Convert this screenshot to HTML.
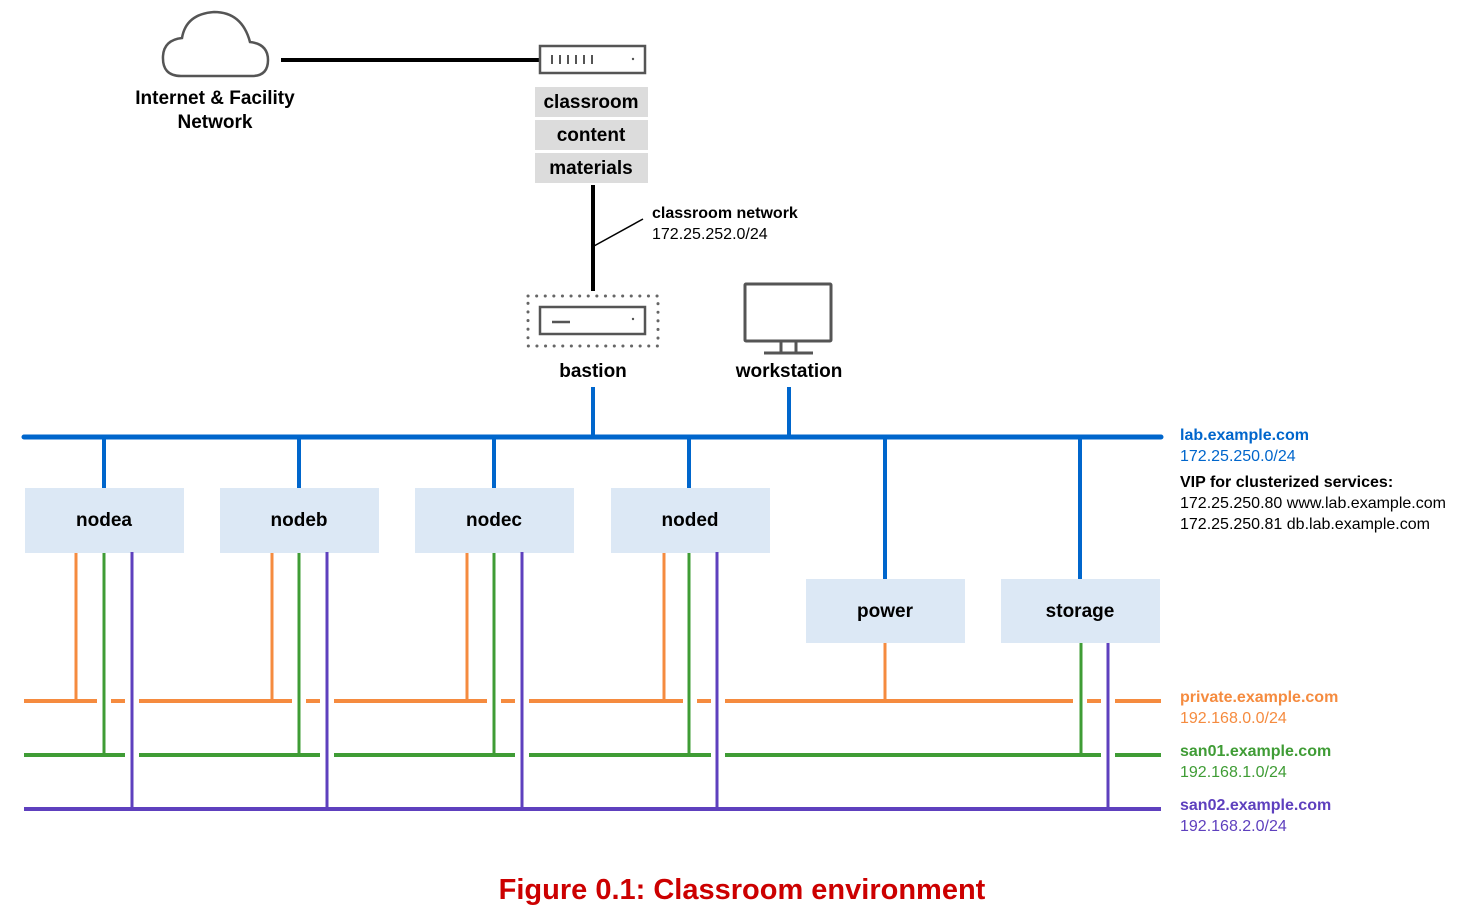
<!DOCTYPE html>
<html><head><meta charset="utf-8"><style>
html,body{margin:0;padding:0;background:#fff;width:1474px;height:918px;overflow:hidden}
svg text{font-family:"Liberation Sans",sans-serif}
</style></head><body>
<svg width="1474" height="918" viewBox="0 0 1474 918" xmlns="http://www.w3.org/2000/svg">
<!-- cloud -->
<path d="M181,76 Q162,76 163,56 Q164,40 182,38 Q186,14 214,12 Q242,12 250,42 Q268,44 268,60 Q268,76 252,76 Z" fill="none" stroke="#555" stroke-width="2.5"/>
<text x="215" y="104" font-size="19" font-weight="bold" text-anchor="middle">Internet &amp; Facility</text>
<text x="215" y="128" font-size="19" font-weight="bold" text-anchor="middle">Network</text>
<line x1="281" y1="60" x2="540" y2="60" stroke="#000" stroke-width="4"/>
<!-- switch -->
<rect x="540" y="46" width="105" height="27" fill="#fff" stroke="#555" stroke-width="2.5"/>
<g stroke="#555" stroke-width="2"><line x1="522" x2="522" y1="0" y2="0"/>
<line x1="552" y1="55" x2="552" y2="64"/><line x1="560" y1="55" x2="560" y2="64"/><line x1="568" y1="55" x2="568" y2="64"/><line x1="576" y1="55" x2="576" y2="64"/><line x1="584" y1="55" x2="584" y2="64"/><line x1="592" y1="55" x2="592" y2="64"/></g>
<circle cx="633" cy="59" r="1.2" fill="#555"/>
<rect x="535" y="87" width="113" height="30" fill="#dcdcdc"/>
<rect x="535" y="120" width="113" height="30" fill="#dcdcdc"/>
<rect x="535" y="153" width="113" height="30" fill="#dcdcdc"/>
<text x="591" y="108" font-size="19" font-weight="bold" text-anchor="middle">classroom</text>
<text x="591" y="141" font-size="19" font-weight="bold" text-anchor="middle">content</text>
<text x="591" y="174" font-size="19" font-weight="bold" text-anchor="middle">materials</text>
<line x1="593" y1="185" x2="593" y2="291" stroke="#000" stroke-width="4"/>
<line x1="594" y1="246" x2="643" y2="219" stroke="#000" stroke-width="1.5"/>
<text x="652" y="218" font-size="16" font-weight="bold">classroom network</text>
<text x="652" y="239" font-size="16">172.25.252.0/24</text>
<!-- bastion -->
<rect x="528" y="296" width="130" height="50" fill="none" stroke="#666" stroke-width="3" stroke-dasharray="0.1 8.5" stroke-linecap="round"/>
<rect x="540" y="307" width="105" height="27" fill="#fff" stroke="#555" stroke-width="2.5"/>
<line x1="552" y1="322" x2="570" y2="322" stroke="#555" stroke-width="2.5"/>
<circle cx="633" cy="319" r="1.2" fill="#555"/>
<text x="593" y="377" font-size="19" font-weight="bold" text-anchor="middle">bastion</text>
<!-- workstation -->
<rect x="745" y="284" width="86" height="57" fill="#fff" stroke="#555" stroke-width="3" rx="1"/>
<line x1="781" y1="342" x2="781" y2="352" stroke="#555" stroke-width="3"/>
<line x1="796" y1="342" x2="796" y2="352" stroke="#555" stroke-width="3"/>
<line x1="764" y1="353" x2="813" y2="353" stroke="#555" stroke-width="3"/>
<text x="789" y="377" font-size="19" font-weight="bold" text-anchor="middle">workstation</text>
<!-- blue -->
<g stroke="#0066cc" stroke-width="4">
<line x1="593" y1="387" x2="593" y2="437"/><line x1="789" y1="387" x2="789" y2="437"/>
<line x1="104" y1="437" x2="104" y2="488"/><line x1="299" y1="437" x2="299" y2="488"/>
<line x1="494" y1="437" x2="494" y2="488"/><line x1="689" y1="437" x2="689" y2="488"/>
<line x1="885" y1="437" x2="885" y2="579"/><line x1="1080" y1="437" x2="1080" y2="579"/>
</g>
<line x1="24" y1="437" x2="1161" y2="437" stroke="#0066cc" stroke-width="5" stroke-linecap="round"/>
<!-- nodes -->
<g fill="#dce8f5">
<rect x="25" y="488" width="159" height="65"/><rect x="220" y="488" width="159" height="65"/>
<rect x="415" y="488" width="159" height="65"/><rect x="611" y="488" width="159" height="65"/>
<rect x="806" y="579" width="159" height="64"/><rect x="1001" y="579" width="159" height="64"/>
</g>
<g font-size="19" font-weight="bold" text-anchor="middle">
<text x="104" y="526">nodea</text><text x="299" y="526">nodeb</text><text x="494" y="526">nodec</text><text x="690" y="526">noded</text>
<text x="885" y="617">power</text><text x="1080" y="617">storage</text>
</g>
<!-- horizontal buses -->
<g stroke-width="4">
<path stroke="#f58b3f" d="M24 701H97M111 701H125M139 701H292M306 701H320M334 701H487M501 701H515M529 701H683M697 701H711M725 701H1073M1087 701H1101M1115 701H1161"/>
<path stroke="#3f9c35" d="M24 755H125M139 755H320M334 755H515M529 755H711M725 755H1101M1115 755H1161"/>
<path stroke="#5e40be" d="M24 809H1161"/>
</g>
<g stroke-width="3">
<g stroke="#f58b3f"><line x1="76" y1="553" x2="76" y2="701"/><line x1="272" y1="553" x2="272" y2="701"/><line x1="467" y1="553" x2="467" y2="701"/><line x1="664" y1="553" x2="664" y2="701"/><line x1="885" y1="643" x2="885" y2="701"/></g>
<g stroke="#3f9c35"><line x1="104" y1="553" x2="104" y2="755"/><line x1="299" y1="553" x2="299" y2="755"/><line x1="494" y1="553" x2="494" y2="755"/><line x1="689" y1="553" x2="689" y2="755"/><line x1="1081" y1="643" x2="1081" y2="755"/></g>
<g stroke="#5e40be"><line x1="132" y1="552" x2="132" y2="809"/><line x1="327" y1="552" x2="327" y2="809"/><line x1="522" y1="552" x2="522" y2="809"/><line x1="717" y1="552" x2="717" y2="809"/><line x1="1108" y1="643" x2="1108" y2="809"/></g>
</g>
<!-- labels -->
<text x="1180" y="440" font-size="16" font-weight="bold" fill="#0066cc">lab.example.com</text>
<text x="1180" y="461" font-size="16" fill="#0066cc">172.25.250.0/24</text>
<text x="1180" y="487" font-size="16" font-weight="bold">VIP for clusterized services:</text>
<text x="1180" y="508" font-size="16">172.25.250.80 www.lab.example.com</text>
<text x="1180" y="529" font-size="16">172.25.250.81 db.lab.example.com</text>
<text x="1180" y="702" font-size="16" font-weight="bold" fill="#f58b3f">private.example.com</text>
<text x="1180" y="723" font-size="16" fill="#f58b3f">192.168.0.0/24</text>
<text x="1180" y="756" font-size="16" font-weight="bold" fill="#3f9c35">san01.example.com</text>
<text x="1180" y="777" font-size="16" fill="#3f9c35">192.168.1.0/24</text>
<text x="1180" y="810" font-size="16" font-weight="bold" fill="#5e40be">san02.example.com</text>
<text x="1180" y="831" font-size="16" fill="#5e40be">192.168.2.0/24</text>
<text x="742" y="899" font-size="29" font-weight="bold" fill="#cc0000" text-anchor="middle">Figure 0.1: Classroom environment</text>
</svg>
</body></html>
